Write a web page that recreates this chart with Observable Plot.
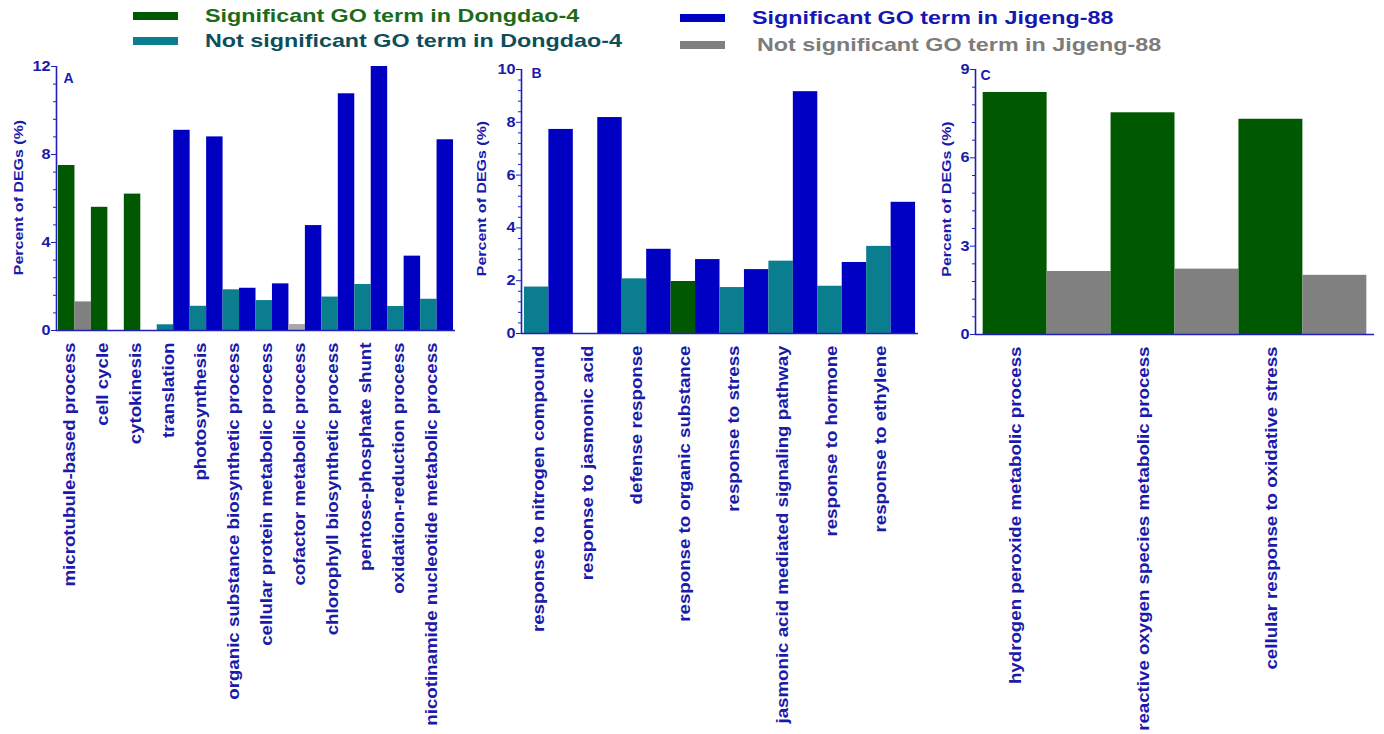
<!DOCTYPE html>
<html>
<head>
<meta charset="utf-8">
<script src="https://cdn.jsdelivr.net/npm/d3@7"></script>
<script src="https://cdn.jsdelivr.net/npm/@observablehq/plot@0.6"></script>
<style>
  body { margin: 0; background: #fff; }
  #chart { position: relative; width: 1384px; height: 734px; overflow: hidden;
           font-family: "Liberation Sans", Arial, sans-serif; background: #fff; }
  #chart svg { position: absolute; top: 0; }
  .swatch { position: absolute; width: 45px; height: 8px; }
  .ltext { position: absolute; font-size: 18.5px; line-height: 18.5px; font-weight: bold;
           white-space: nowrap; transform: scaleX(1.26); transform-origin: 0 50%; }
</style>
</head>
<body>
<div id="chart"></div>
<script>
// ---- Panel A: biological processes ----
const termsA = [
  "microtubule-based process", "cell cycle", "cytokinesis", "translation",
  "photosynthesis", "organic substance biosynthetic process",
  "cellular protein metabolic process", "cofactor metabolic process",
  "chlorophyll biosynthetic process", "pentose-phosphate shunt",
  "oxidation-reduction process", "nicotinamide nucleotide metabolic process"
];
const dongdaoA = [7.5, 5.6, 6.2, 0.26, 1.1, 1.85, 1.36, 0.27, 1.52, 2.09, 1.09, 1.42];
const jigengA  = [1.3, 0, 0, 9.1, 8.8, 1.92, 2.12, 4.77, 10.76, 12.0, 3.38, 8.67];
// S = significant, N = not significant, G = not significant (grey)
const dongdaoSigA = ["S", "S", "S", "N", "N", "N", "N", "G", "N", "N", "N", "N"];
const jigengSigA  = ["N", "N", "N", "S", "S", "S", "S", "S", "S", "S", "S", "S"];

// ---- Panel B: responses ----
const termsB = [
  "response to nitrogen compound", "response to jasmonic acid", "defense response",
  "response to organic substance", "response to stress",
  "jasmonic acid mediated signaling pathway", "response to hormone", "response to ethylene"
];
const dongdaoB = [1.76, 0, 2.07, 1.97, 1.74, 2.74, 1.79, 3.30];
const jigengB  = [7.73, 8.18, 3.19, 2.80, 2.42, 9.16, 2.69, 4.97];
const dongdaoSigB = ["N", "N", "N", "S", "N", "N", "N", "N"];
const jigengSigB  = ["S", "S", "S", "S", "S", "S", "S", "S"];

// ---- Panel C: oxidative stress ----
const termsC = [
  "hydrogen peroxide metabolic process",
  "reactive oxygen species metabolic process",
  "cellular response to oxidative stress"
];
const dongdaoC = [8.22, 7.53, 7.31];
const jigengC  = [2.14, 2.22, 2.01];
const dongdaoSigC = ["S", "S", "S"];
const jigengSigC  = ["N", "N", "N"];

// ---- Axis ticks ----
const yMaxes = [12, 10, 9];
const yMajorSteps = [4, 2, 3];
const yMinorSteps = [0.8, 0.4, 0.6];
const panelLetters = ["A", "B", "C"];
const yTitle = "Percent of DEGs (%)";

// ---- Legend ----
const legendLabels = [
  "Significant GO term in Dongdao-4",
  "Not significant GO term in Dongdao-4",
  "Significant GO term in Jigeng-88",
  "Not significant GO term in Jigeng-88"
];
const kindKeys   = ["D-S", "D-N", "D-G", "J-S", "J-N"];
const kindColors = ["#005800", "#0a7e8e", "#a8a8a8", "#0000c2", "#808080"];
const legendKinds = ["D-S", "D-N", "J-S", "J-N"];
const legendTextColors = ["#1b6b1b", "#0d4e5a", "#1616b2", "#7c7c7c"];

const ink = "#1a1aab";
const axisInk = "#2020b8";
const font = "Liberation Sans, Arial, sans-serif";

const panels = [
  {terms: termsA, d: dongdaoA, j: jigengA, ds: dongdaoSigA, js: jigengSigA},
  {terms: termsB, d: dongdaoB, j: jigengB, ds: dongdaoSigB, js: jigengSigB},
  {terms: termsC, d: dongdaoC, j: jigengC, ds: dongdaoSigC, js: jigengSigC}
];

// page placement of each panel
const layouts = [
  {left: 0,   width: 470, ml: 56, mr: 15, mt: 66, mb: 404, tdx: -38,   tdy: -1, ldx: 7,  ldy: 7,  xdx: 3},
  {left: 465, width: 470, ml: 56, mr: 17, mt: 69, mb: 401, tdx: -39.5, tdy: -3, ldx: 10, ldy: -1, xdx: 2},
  {left: 920, width: 464, ml: 55, mr: 10, mt: 69, mb: 400, tdx: -28.5, tdy: -3, ldx: 5,  ldy: 1,  xdx: 1}
];

// squeeze/stretch text glyphs in their own frame
function stretch(nodes, sx, sy) {
  nodes.forEach(t => {
    let tr = t.getAttribute("transform");
    if (!tr) {
      const x = +(t.getAttribute("x") || 0), y = +(t.getAttribute("y") || 0);
      t.removeAttribute("x"); t.removeAttribute("y");
      tr = `translate(${x},${y})`;
    }
    t.setAttribute("transform", `${tr} scale(${sx},${sy})`);
  });
}

const chart = document.getElementById("chart");

panels.forEach((p, k) => {
  const lay = layouts[k];
  const n = p.terms.length;
  const rows = [];
  p.terms.forEach((term, i) => {
    rows.push({term, x1: 2 * i,     x2: 2 * i + 1, value: p.d[i], kind: "D-" + p.ds[i]});
    rows.push({term, x1: 2 * i + 1, x2: 2 * i + 2, value: p.j[i], kind: "J-" + p.js[i]});
  });
  const xDomain = [-0.12, 2 * n + 0.12];
  const majors = d3.range(0, yMaxes[k] + 1e-9, yMajorSteps[k]);
  const minors = d3.range(0, yMaxes[k] + 1e-9, yMinorSteps[k])
    .filter(v => !majors.some(m => Math.abs(m - v) < 1e-6));

  const svg = Plot.plot({
    width: lay.width, height: 734,
    marginLeft: lay.ml, marginRight: lay.mr, marginTop: lay.mt, marginBottom: lay.mb,
    style: {background: "transparent", fontFamily: font, overflow: "visible"},
    x: {domain: xDomain},
    y: {domain: [0, yMaxes[k]]},
    color: {domain: kindKeys, range: kindColors},
    marks: [
      Plot.rect(rows, {x1: "x1", x2: "x2", y1: 0, y2: "value", fill: "kind"}),
      Plot.ruleY([0], {stroke: axisInk, strokeWidth: 1.6}),
      Plot.ruleX([xDomain[0]], {stroke: axisInk, strokeWidth: 1.6}),
      Plot.axisY({ticks: majors, tickSize: 5, tickPadding: 1, tickFormat: d3.format("d"),
                  label: null, stroke: axisInk, fill: ink, fontSize: 15.5, fontWeight: "bold"}),
      Plot.axisY({ticks: minors, tickSize: 3, tickFormat: () => "", label: null, stroke: axisInk}),
      Plot.axisX({ticks: p.terms.map((t, i) => 2 * i + 0.5),
                  tickFormat: v => p.terms[Math.round((v - 0.5) / 2)],
                  tickRotate: -90, tickSize: 0, tickPadding: 12, label: null, dx: lay.xdx,
                  fill: ink, fontSize: 18.7, fontWeight: "bold"}),
      Plot.text([yTitle], {text: d => d, frameAnchor: "left", textAnchor: "middle", rotate: -90,
                           dx: lay.tdx, dy: lay.tdy, fill: ink, fontSize: 16, fontWeight: "bold"}),
      Plot.text([panelLetters[k]], {text: d => d, frameAnchor: "top-left", textAnchor: "start",
                                    lineAnchor: "top", dx: lay.ldx, dy: lay.ldy,
                                    fill: ink, fontSize: 14, fontWeight: "bold"})
    ]
  });
  svg.style.left = lay.left + "px";
  stretch(svg.querySelectorAll('g[aria-label="x-axis tick label"] text'), 1, 0.85);
  stretch(svg.querySelectorAll('g[aria-label="y-axis tick label"] text'), 1.05, 0.9);
  const texts = svg.querySelectorAll('g[aria-label="text"]');
  if (texts[0]) stretch(texts[0].querySelectorAll("text"), 1, 0.85);
  chart.appendChild(svg);
});

// legend (two columns of two entries)
const legendPos = [
  {sx: 133, sy: 12, tx: 205, ty: 7},
  {sx: 133, sy: 37, tx: 205, ty: 32},
  {sx: 680, sy: 14, tx: 752, ty: 9},
  {sx: 680, sy: 41, tx: 757, ty: 36}
];
legendLabels.forEach((label, i) => {
  const pos = legendPos[i];
  const sw = document.createElement("div");
  sw.className = "swatch";
  sw.style.left = pos.sx + "px";
  sw.style.top = pos.sy + "px";
  sw.style.background = kindColors[kindKeys.indexOf(legendKinds[i])];
  chart.appendChild(sw);
  const tx = document.createElement("div");
  tx.className = "ltext";
  tx.style.left = pos.tx + "px";
  tx.style.top = pos.ty + "px";
  tx.style.color = legendTextColors[i];
  tx.textContent = label;
  chart.appendChild(tx);
});
</script>
</body>
</html>
